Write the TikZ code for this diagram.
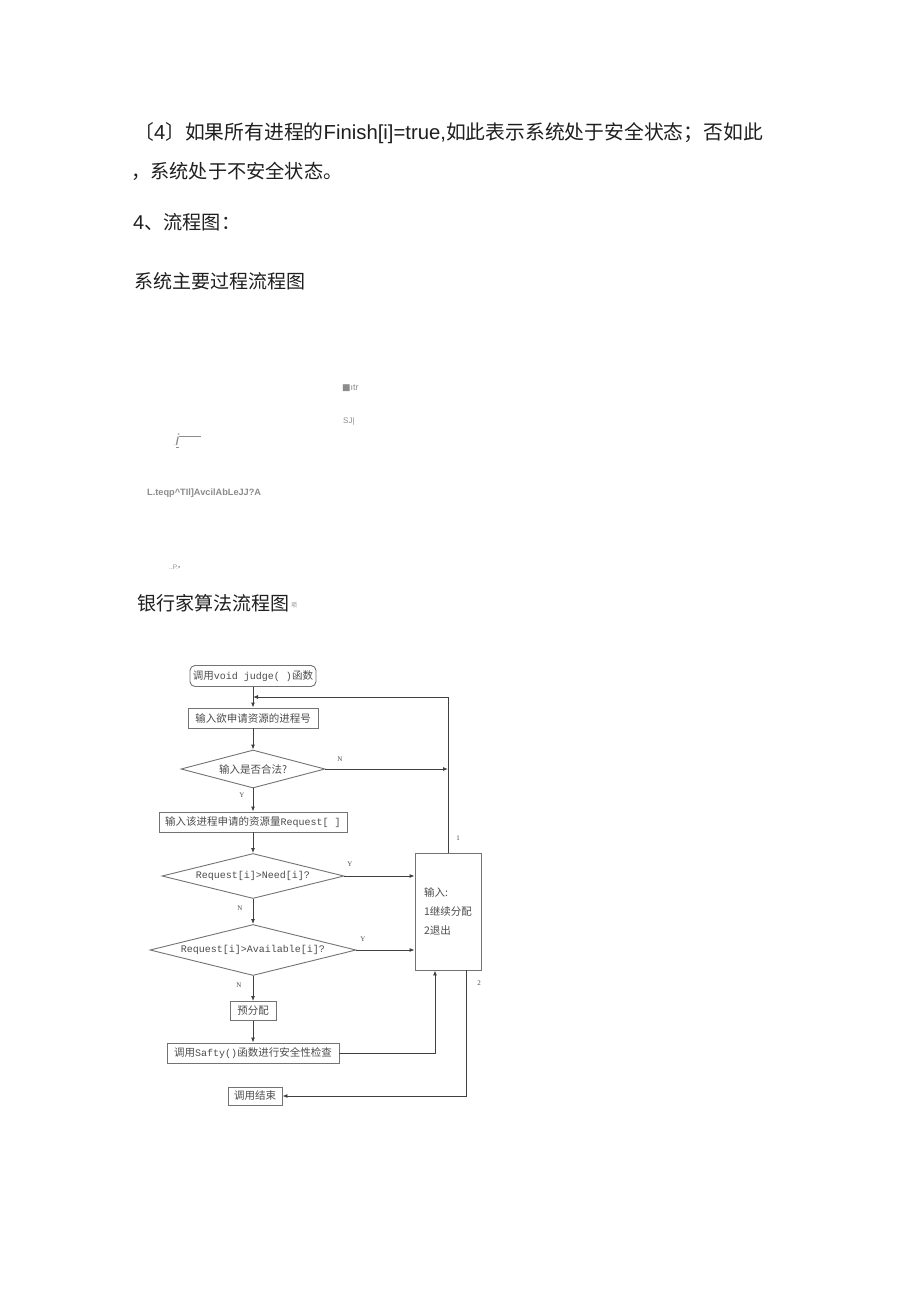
\documentclass[tikz,border=0pt]{standalone}
\usepackage{fontspec}
\setmainfont{Liberation Sans}
\newfontfamily\cjk{Noto Sans CJK SC}
\newfontfamily\fmono{Liberation Mono}
\newfontfamily\fserif{Liberation Serif}
\newfontfamily\dvs{DejaVu Sans}
\usetikzlibrary{shapes.geometric,arrows.meta}
\begin{document}
\begin{tikzpicture}[x=1pt,y=-1pt,
  txt/.style={anchor=west,inner sep=0pt,text=black!88},
  faint/.style={anchor=west,inner sep=0pt,text=black!45},
  fbox/.style={draw=black!55,line width=0.9pt,fill=white,inner sep=1pt,text=black!70,
     font=\cjk\fontsize{10.5}{12}\selectfont},
  fdia/.style={diamond,draw=black!55,line width=0.9pt,fill=white,inner sep=0.5pt,text=black!70,
     font=\cjk\fontsize{10.5}{12}\selectfont},
  lbl/.style={inner sep=0pt,text=black!70,font=\fserif\fontsize{7}{8}\selectfont},
  arr/.style={draw=black!75,line width=0.9pt,-{Latex[length=5pt,width=4pt]}},
  ln/.style={draw=black!75,line width=0.9pt}]
\fill[white] (0,0) rectangle (920,1303);
\useasboundingbox (0,0) rectangle (920,1303);

% ---- text lines ----
\node[txt] (t1) at (134,133) {\fontsize{20.3}{22}\selectfont{\cjk\fontsize{19.8}{22}\selectfont 〔}4{\cjk\fontsize{19.8}{22}\selectfont 〕如果所有进程的}Finish[i]=true,{\cjk\fontsize{19.8}{22}\selectfont 如此表示系统处于安全状态；否如此}};
\node[txt] (t2) at (131,171) {\cjk\fontsize{19.2}{22}\selectfont ，系统处于不安全状态。};
\node[txt] (t3) at (133,222) {\fontsize{20}{22}\selectfont 4{\cjk\fontsize{19.2}{22}\selectfont 、流程图：}};
\node[txt] (t4) at (134,281) {\cjk\fontsize{19}{22}\selectfont 系统主要过程流程图};
\node[txt] (t5) at (137,603) {\cjk\fontsize{19}{22}\selectfont 银行家算法流程图};
\node[faint] (t6) at (291,605) {\cjk\fontsize{6}{7}\selectfont 项};

% ---- faint remnants ----
\node[faint] (g1) at (342,388) {\fontsize{9}{10}\selectfont{\dvs ■}ıtr};
\node[faint] (g2) at (343,421) {\fontsize{8}{9}\selectfont SJ|};
\node[faint] (g3) at (174,441) {\fontsize{16}{17}\selectfont{\fontsize{5}{6}\selectfont ,}\underline{\itshape i}\rule[0.55em]{22pt}{0.6pt}};
\node[faint] (g4) at (147,493) {\fontsize{9.2}{10}\selectfont\bfseries L.teqp\textasciicircum TIl]AvcilAbLeJJ?A};
\node[faint] (g5) at (169,567) {\fontsize{6.5}{8}\selectfont ..P.•};

% ---- flowchart ----
\node[fbox,rounded corners=5pt,minimum width=126pt,minimum height=21pt] (judge) at (253,676)
  {调用{\fmono\fontsize{10}{12}\selectfont void judge( )}函数};
\node[fbox,minimum width=130pt,minimum height=20pt] (in1) at (253,718) {输入欲申请资源的进程号};
\node[fdia,minimum width=144pt,minimum height=38pt,aspect=3.8] (d1) at (253,769) {输入是否合法?};
\node[fbox,minimum width=188pt,minimum height=20pt] (in2) at (253,822)
  {输入该进程申请的资源量{\fmono\fontsize{10}{12}\selectfont Request[ ]}};
\node[fdia,minimum width=182pt,minimum height=45pt,aspect=4] (d2) at (253,876)
  {\fmono\fontsize{10}{12}\selectfont Request[i]>Need[i]?};
\node[fdia,minimum width=206pt,minimum height=51pt,aspect=4] (d3) at (253,950)
  {\fmono\fontsize{10}{12}\selectfont Request[i]>Available[i]?};
\node[fbox,minimum width=46pt,minimum height=19pt] (pre) at (253,1011) {预分配};
\node[fbox,minimum width=172pt,minimum height=20pt] (saf) at (253,1053)
  {调用{\fmono\fontsize{10}{12}\selectfont Safty()}函数进行安全性检查};
\node[fbox,minimum width=54pt,minimum height=18pt] (fin) at (255,1096) {调用结束};
\node[fbox,minimum width=66pt,minimum height=117pt,align=left,
  font=\cjk\fontsize{10.5}{19}\selectfont] (menu) at (448,911.5) {输入:\\1继续分配\\2退出};
\coordinate (lp) at (253,697);

% vertical chain
\draw[arr] (judge.south) -- (in1.north);
\draw[arr] (in1.south) -- (d1.north);
\draw[arr] (d1.south) -- (in2.north);
\draw[arr] (in2.south) -- (d2.north);
\draw[arr] (d2.south) -- (d3.north);
\draw[arr] (d3.south) -- (pre.north);
\draw[arr] (pre.south) -- (saf.north);

% loops
\draw[arr] (menu.north) |- (lp);
\draw[arr] (d1.east) -- (d1.east -| menu.north);
\draw[arr] (d2.east) -- (d2.east -| menu.west);
\draw[arr] (d3.east) -- (d3.east -| menu.west);
\draw[arr] (saf.east) -| ([xshift=-13pt]menu.south);
\draw[arr] ([xshift=18pt]menu.south) |- (fin.east);

% labels
\node[lbl] (lN1) at (340,759) {N};
\node[lbl] (lY1) at (242,795) {Y};
\node[lbl] (lY2) at (350,864) {Y};
\node[lbl] (lN2) at (240,908) {N};
\node[lbl] (lY3) at (363,939) {Y};
\node[lbl] (lN3) at (239,985) {N};
\node[lbl] (l1) at (458,838) {1};
\node[lbl] (l2) at (479,983) {2};
\end{tikzpicture}
\end{document}
